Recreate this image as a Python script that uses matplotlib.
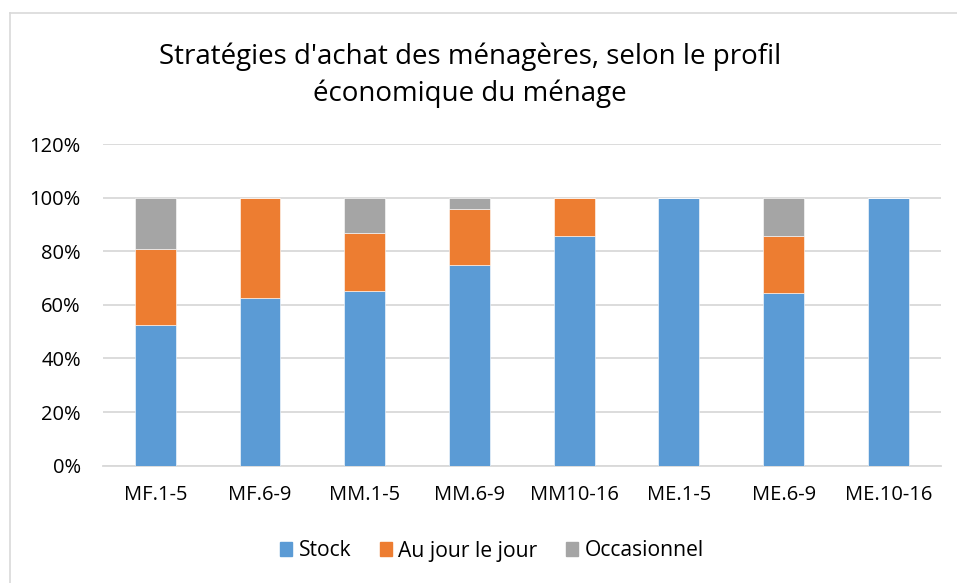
import matplotlib
matplotlib.use("Agg")
import matplotlib.pyplot as plt
from matplotlib.patches import Rectangle
from matplotlib.lines import Line2D
import numpy as np

categories = ["MF.1-5", "MF.6-9", "MM.1-5", "MM.6-9", "MM10-16", "ME.1-5", "ME.6-9", "ME.10-16"]
stock = [52.6, 62.5, 65.2, 75.0, 85.7, 100.0, 64.3, 100.0]
au_jour = [28.1, 37.5, 21.7, 20.8, 14.3, 0.0, 21.4, 0.0]
occasionnel = [19.3, 0.0, 13.1, 4.2, 0.0, 0.0, 14.3, 0.0]
series_names = ["Stock", "Au jour le jour", "Occasionnel"]
colors = ["#5B9BD5", "#ED7D31", "#A5A5A5"]
yticks = [0, 20, 40, 60, 80, 100, 120]
title = "Stratégies d'achat des ménagères, selon le profil\néconomique du ménage"

plt.rcParams['font.family'] = ['Open Sans', 'DejaVu Sans']

fig = plt.figure(figsize=(9.57, 5.83), dpi=100)
fig.patch.set_facecolor("white")
ax = fig.add_axes([103/957, 1-465.7/583, (940.7-103)/957, (465.7-144)/583])

x = np.arange(len(categories))
w = 0.39
bottom = np.zeros(len(categories))
for vals, name, c in zip([stock, au_jour, occasionnel], series_names, colors):
    v = np.array(vals)
    ax.bar(x, v, w, bottom=bottom, color=c, label=name, edgecolor="white", linewidth=0.4, zorder=3)
    bottom += v

ax.set_xlim(-0.5, len(categories) - 0.5)
ax.set_ylim(0, 120)
ax.set_yticks(yticks)
ax.set_yticklabels([f"{t}%" for t in yticks], fontsize=14.5, color="#000000")
ax.set_xticks(x)
ax.set_xticklabels(categories, fontsize=14.5, color="#000000")
ax.tick_params(axis="both", length=0)
ax.tick_params(axis="y", pad=16)
ax.tick_params(axis="x", pad=14)
ax.grid(axis="y", color="#D9D9D9", linewidth=1.3, zorder=0)
for s in ["top", "right", "left"]:
    ax.spines[s].set_visible(False)
ax.spines["bottom"].set_color("#D9D9D9")
ax.spines["bottom"].set_linewidth(1.3)

fig.text(470/957, 1-75/583, title, ha="center", va="center", fontsize=20, color="#000000", linespacing=1.4)

handles = [Rectangle((0, 0), 1, 1, color=c) for c in colors]
fig.legend(handles, series_names, loc="center", bbox_to_anchor=(492/957, 1-551/583), ncol=3,
           frameon=False, fontsize=15.2, handlelength=0.58, handleheight=0.58, handletextpad=0.3,
           columnspacing=1.35)

# chart border (left and top)
fig.add_artist(Line2D([10/957, 10/957], [0, 1-13/583], color="#D9D9D9", linewidth=1.2, transform=fig.transFigure))
fig.add_artist(Line2D([10/957, 1], [1-13/583, 1-13/583], color="#D9D9D9", linewidth=1.2, transform=fig.transFigure))

fig.savefig("out.png", dpi=100, facecolor="white")
